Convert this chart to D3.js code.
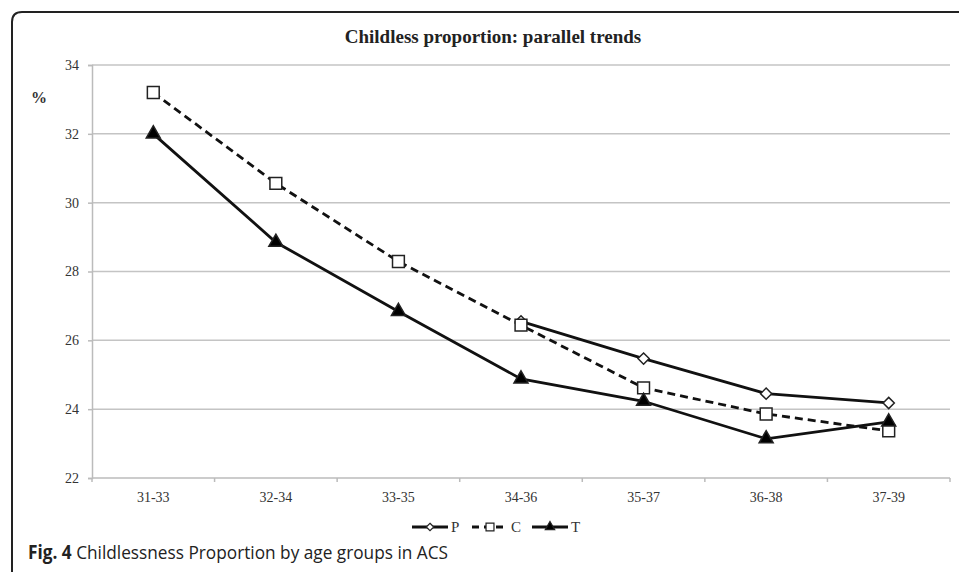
<!DOCTYPE html>
<html>
<head>
<meta charset="utf-8">
<script src="https://cdn.jsdelivr.net/npm/d3@7"></script>
<style>
  body { margin: 0; background: #fff; }
  svg { display: block; }
</style>
</head>
<body>
<div id="chart"></div>
<script>
// data
let categories = ["31-33", "32-34", "33-35", "34-36", "35-37", "36-38", "37-39"]
let p_values = [null, null, null, 26.55, 25.47, 24.45, 24.18]
let c_values = [33.2, 30.56, 28.29, 26.44, 24.62, 23.86, 23.37]
let t_values = [32.0, 28.85, 26.84, 24.88, 24.23, 23.14, 23.63]
let y_ticks = [22, 24, 26, 28, 30, 32, 34]

let width = 959
let height = 572

let svg = d3.select("#chart")
  .append("svg")
  .attr("width", width)
  .attr("height", height)

// outer frame, runs off the right and bottom edges
svg.append("path")
  .attr("d", "M12,582 L12,22 Q12,12 22,12 L980,12")
  .attr("fill", "none")
  .attr("stroke", "#222")
  .attr("stroke-width", 2)

let x = d3.scaleBand()
  .domain(categories)
  .range([92, 950])

let y = d3.scaleLinear()
  .domain([22, 34])
  .range([478, 65])

// gridlines
svg.append("g")
  .selectAll("line")
  .data(y_ticks.slice(1))
  .join("line")
  .attr("x1", 92)
  .attr("x2", 950)
  .attr("y1", d => y(d))
  .attr("y2", d => y(d))
  .attr("stroke", "#c4c4c4")
  .attr("stroke-width", 1.5)

// y axis
let yAxis = svg.append("g")
  .attr("transform", "translate(92,0)")
  .call(d3.axisLeft(y).tickValues(y_ticks).tickSize(4).tickPadding(9))
yAxis.selectAll("line, path").attr("stroke", "#bbb").attr("stroke-width", 1.5)
yAxis.selectAll("text")
  .attr("font-family", "Liberation Serif")
  .attr("font-size", 14)
  .attr("fill", "#333")

// x axis with ticks between categories
let xAxis = svg.append("g")
  .attr("transform", "translate(0,478)")
xAxis.append("line")
  .attr("x1", 92).attr("x2", 950)
  .attr("stroke", "#bbb").attr("stroke-width", 1.5)
xAxis.selectAll(".tk")
  .data(categories.concat(["end"]))
  .join("line")
  .attr("x1", (d, i) => 92 + i * x.bandwidth())
  .attr("x2", (d, i) => 92 + i * x.bandwidth())
  .attr("y1", 0).attr("y2", 4)
  .attr("stroke", "#bbb").attr("stroke-width", 1.5)
xAxis.selectAll("text")
  .data(categories)
  .join("text")
  .attr("x", d => x(d) + x.bandwidth() / 2)
  .attr("y", 24)
  .attr("text-anchor", "middle")
  .attr("font-family", "Liberation Serif")
  .attr("font-size", 14)
  .attr("fill", "#333")
  .text(d => d)

// title and % label
svg.append("text")
  .attr("x", 493).attr("y", 43)
  .attr("text-anchor", "middle")
  .attr("font-family", "Liberation Serif")
  .attr("font-weight", "bold")
  .attr("font-size", 19)
  .attr("fill", "#222")
  .text("Childless proportion: parallel trends")

svg.append("text")
  .attr("x", 39).attr("y", 103)
  .attr("text-anchor", "middle")
  .attr("font-family", "Liberation Serif")
  .attr("font-weight", "bold")
  .attr("font-size", 16)
  .attr("fill", "#333")
  .text("%")

let cx = i => x(categories[i]) + x.bandwidth() / 2

let line = d3.line()
  .defined(d => d != null)
  .x((d, i) => cx(i))
  .y(d => y(d))

let series = [
  {name: "P", values: p_values, dash: null, symbol: d3.symbolDiamond2, size: 80, fill: "white"},
  {name: "C", values: c_values, dash: "8,5", symbol: d3.symbolSquare, size: 140, fill: "white"},
  {name: "T", values: t_values, dash: null, symbol: d3.symbolTriangle, size: 85, fill: "black"}
]

series.forEach(s => {
  svg.append("path")
    .datum(s.values)
    .attr("fill", "none")
    .attr("stroke", "#111")
    .attr("stroke-width", 2.8)
    .attr("stroke-dasharray", s.dash)
    .attr("d", line)
})

series.forEach(s => {
  svg.append("g")
    .selectAll("path")
    .data(s.values.map((v, i) => [v, i]).filter(d => d[0] != null))
    .join("path")
    .attr("transform", d => "translate(" + cx(d[1]) + "," + y(d[0]) + ")")
    .attr("d", d3.symbol().type(s.symbol).size(s.size))
    .attr("fill", s.fill)
    .attr("stroke", "#222")
    .attr("stroke-width", 1.5)
})

// legend
let legend = svg.append("g").attr("transform", "translate(412,527)")
series.forEach((s, i) => {
  let g = legend.append("g").attr("transform", "translate(" + (i * 60) + ",0)")
  g.append("line")
    .attr("x1", 0).attr("x2", 36)
    .attr("stroke", "#111").attr("stroke-width", 2.8)
    .attr("stroke-dasharray", s.dash ? "7,5" : null)
  g.append("path")
    .attr("transform", "translate(18,0)")
    .attr("d", d3.symbol().type(s.symbol).size(s.size * 0.45))
    .attr("fill", s.fill)
    .attr("stroke", "#222")
    .attr("stroke-width", 1.2)
  g.append("text")
    .attr("x", 39).attr("y", 5)
    .attr("font-family", "Liberation Serif")
    .attr("font-size", 15)
    .attr("fill", "#333")
    .text(s.name)
})

// figure caption (condensed face in the original)
let cap = svg.append("text")
  .attr("x", 28).attr("y", 559)
  .attr("font-family", "Open Sans")
  .attr("font-size", 19)
  .attr("fill", "#222")
  .attr("textLength", 420)
  .attr("lengthAdjust", "spacingAndGlyphs")
cap.append("tspan").attr("font-weight", "bold").text("Fig. 4")
cap.append("tspan").text(" Childlessness Proportion by age groups in ACS")
</script>
</body>
</html>
